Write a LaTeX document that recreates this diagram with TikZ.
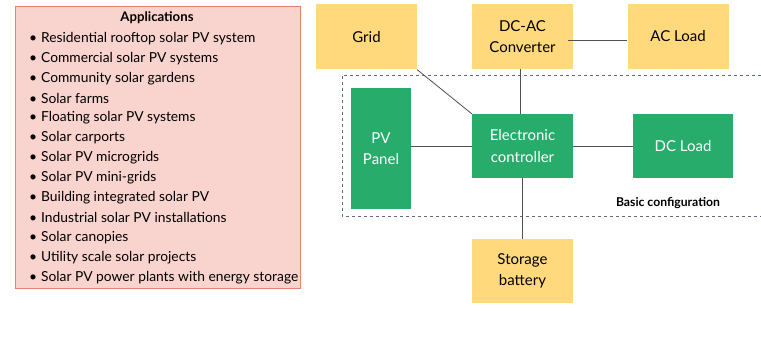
\documentclass[tikz,border=0pt]{standalone}
\usepackage{fontspec}
\setmainfont{Lato}
\usepackage{xcolor}
\definecolor{boxyellow}{HTML}{FFD97C}
\definecolor{boxgreen}{HTML}{27AC6C}
\definecolor{appfill}{HTML}{F9D3CD}
\definecolor{appdraw}{HTML}{E8806E}
\definecolor{wire}{HTML}{505050}
\definecolor{dashgray}{HTML}{5F6B78}
\tikzset{
  ybox/.style={fill=boxyellow, minimum width=101pt, minimum height=65pt, align=center, font=\fontsize{15}{21.5}\selectfont, inner sep=0pt},
  gbox/.style={fill=boxgreen, text=white, minimum width=101pt, minimum height=64pt, align=center, font=\fontsize{15}{21.5}\selectfont, inner sep=0pt},
  wireline/.style={wire, line width=0.8pt},
  appitem/.style={anchor=west, font=\fontsize{13.8}{16}\selectfont, inner sep=0pt}
}

\begin{document}
\begin{tikzpicture}[x=1pt,y=-1pt]
      \useasboundingbox (0,0) rectangle (761,342);

      % applications box
      \draw[appdraw, fill=appfill, line width=0.9pt] (15,6) rectangle (300,288);
      \node[font=\fontsize{13.2}{16}\selectfont\bfseries] (apptitle) at (157,17.5) {Applications};
      \foreach \txt [count=\i] in {Residential rooftop solar PV system, Commercial solar PV systems,
          Community solar gardens, Solar farms, Floating solar PV systems, Solar carports,
          Solar PV microgrids, Solar PV mini-grids, Building integrated solar PV,
          Industrial solar PV installations, Solar canopies, Utility scale solar projects,
          Solar PV power plants with energy storage}
        \node[appitem] (app\i) at (29,18.5+19.9*\i) {\textbullet\hspace{4pt}\txt};

      % basic configuration frame
      \draw[dashgray, dashed, line width=0.8pt] (761,75) -- (342,75) -- (342,216) -- (761,216);
      \node[font=\fontsize{12.2}{14}\selectfont\bfseries] (basic) at (668,203) {Basic configuration};

      % yellow blocks
      \node[ybox] (grid) at (366.5,37) {Grid};
      \node[ybox] (conv) at (522.5,36.5) {DC-AC\\Converter};
      \node[ybox] (acload) at (678,36.5) {AC Load};
      \node[ybox, minimum height=64pt] (battery) at (522.5,271) {Storage\\battery};

      % green blocks
      \node[gbox, minimum width=60pt, minimum height=121pt] (pv) at (381,148.5) {PV\\Panel};
      \node[gbox] (ctrl) at (522.5,146) {Electronic\\controller};
      \node[gbox, minimum width=100pt] (dcload) at (683,146) {DC Load};

      % connections
      \draw[wireline] (grid.south east) -- (ctrl.north west);
      \draw[wireline] ([xshift=-2pt]conv.south) -- ([xshift=-2pt]ctrl.north);
      \draw[wireline] ([xshift=-5pt,yshift=-3.5pt]conv.east) -- ([yshift=-3.5pt]acload.west);
      \draw[wireline] (pv.east |- ctrl.center) -- (ctrl.west);
      \draw[wireline] (ctrl.east) -- (dcload.west);
      \draw[wireline] (ctrl.south) -- (battery.north);
    \end{tikzpicture}
\end{document}
